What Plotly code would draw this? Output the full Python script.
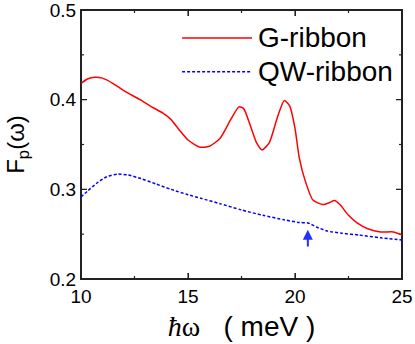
import plotly.graph_objects as go

# photon energy (meV) and Purcell-like factor for the two ribbons
x_g = [10.0, 10.3, 10.65, 11.0, 11.5, 12.0, 12.76, 13.3, 13.83, 14.2, 14.6, 15.0,
       15.56, 16.0, 16.5, 17.0, 17.38, 17.6, 17.9, 18.2, 18.46, 18.8, 19.2, 19.5,
       19.75, 20.0, 20.2, 20.47, 20.84, 21.3, 21.6, 21.85, 22.1, 22.5, 22.9, 23.4,
       24.0, 24.6, 25.0]
f_g = [0.418, 0.423, 0.425, 0.424, 0.418, 0.410, 0.400, 0.392, 0.385, 0.378, 0.366, 0.355,
       0.347, 0.348, 0.357, 0.378, 0.392, 0.390, 0.372, 0.352, 0.344, 0.352, 0.382, 0.399,
       0.393, 0.368, 0.335, 0.310, 0.288, 0.283, 0.285, 0.2875, 0.283, 0.271, 0.2625, 0.256,
       0.2525, 0.2525, 0.249]

x_qw = [10.0, 10.3, 10.8, 11.2, 11.7, 12.2, 12.8, 13.5, 14.2, 15.0, 15.6, 16.5, 17.5,
        18.5, 19.5, 20.2, 20.6, 21.0, 21.5, 22.2, 23.0, 24.0, 25.0]
f_qw = [0.2915, 0.298, 0.308, 0.314, 0.317, 0.316, 0.312, 0.306, 0.300, 0.294, 0.290,
        0.284, 0.277, 0.271, 0.266, 0.263, 0.2625, 0.258, 0.2535, 0.251, 0.249, 0.246, 0.2435]

# arrow marking the feature on the QW curve
arrow_x = 20.6
arrow_tail, arrow_head = 0.2347, 0.255

# axes
x_range = [10, 25]
y_range = [0.2, 0.5]
x_major = [10, 15, 20, 25]
x_minor = [12.5, 17.5, 22.5]
y_major = [0.2, 0.3, 0.4, 0.5]
y_minor = [0.25, 0.35, 0.45]

W, H = 415, 344
M = dict(l=81, r=13, t=10, b=65)
px_x = (x_range[1] - x_range[0]) / (W - M["l"] - M["r"])   # data units per pixel
px_y = (y_range[1] - y_range[0]) / (H - M["t"] - M["b"])

fig = go.Figure()

# box frame and inward ticks on all four sides (drawn as a trace so they always show)
fx = [x_range[0], x_range[1], x_range[1], x_range[0], x_range[0]]
fy = [y_range[0], y_range[0], y_range[1], y_range[1], y_range[0]]
tx, ty = [], []
for vals, ln in ((x_major, 6), (x_minor, 3)):
    for v in vals:
        tx += [v, v, None, v, v, None]
        ty += [y_range[0], y_range[0] + ln * px_y, None, y_range[1], y_range[1] - ln * px_y, None]
for vals, ln in ((y_major, 6), (y_minor, 3)):
    for v in vals:
        tx += [x_range[0], x_range[0] + ln * px_x, None, x_range[1], x_range[1] - ln * px_x, None]
        ty += [v, v, None, v, v, None]
fig.add_trace(go.Scatter(x=fx, y=fy, mode="lines", hoverinfo="skip",
                         line=dict(color="#222222", width=2)))
fig.add_trace(go.Scatter(x=tx, y=ty, mode="lines", hoverinfo="skip",
                         line=dict(color="#222222", width=1.2)))

fig.add_trace(go.Scatter(x=x_g, y=f_g, mode="lines", name="G-ribbon",
                         line=dict(color="#ff0000", width=1.5, shape="spline", smoothing=0.6)))
fig.add_trace(go.Scatter(x=x_qw, y=f_qw, mode="lines", name="QW-ribbon",
                         line=dict(color="#0000ff", width=1.5, dash="3px,2px",
                                   shape="spline", smoothing=0.6)))

fig.add_annotation(x=arrow_x, y=arrow_head, ax=arrow_x, ay=arrow_tail, axref="x", ayref="y",
                   xref="x", yref="y", text="", showarrow=True, arrowhead=2,
                   arrowsize=1, arrowwidth=2, arrowcolor="#2030ff")

# hand drawn legend
legend_items = [("G-ribbon", "#ff0000", "solid", 0.896), ("QW-ribbon", "#0000ff", "3px,2px", 0.770)]
for label, col, dash, yp in legend_items:
    fig.add_shape(type="line", xref="paper", yref="paper", x0=0.315, x1=0.533, y0=yp, y1=yp,
                  line=dict(color=col, width=1.5, dash=dash))
    fig.add_annotation(xref="paper", yref="paper", x=0.545, y=yp, text=label, showarrow=False,
                       xanchor="left", yanchor="middle",
                       font=dict(family="Liberation Sans, Arial", size=28, color="black"))

axis_style = dict(showline=True, linewidth=1, linecolor="#222222", mirror="ticks",
                  ticks="inside", ticklen=6, tickwidth=1, tickcolor="#222222",
                  showgrid=False, zeroline=False, automargin=False, ticklabeloverflow="allow",
                  tickfont=dict(family="Liberation Sans, Arial", size=19, color="black"))

fig.update_xaxes(range=x_range, tickvals=x_major,
                 title=dict(text="<span style='font-family:Liberation Serif'><i>ħ</i>ω</span>   ( meV )",
                            standoff=10,
                            font=dict(family="Liberation Sans, Arial", size=28, color="black")),
                 **axis_style)
fig.update_yaxes(range=y_range, tickvals=y_major, tickformat=".1f",
                 title=dict(text="F<sub>p</sub>(ω)", standoff=18,
                            font=dict(family="Liberation Sans, Arial", size=24, color="black")),
                 **axis_style)

fig.update_layout(width=W, height=H, margin=M,
                  plot_bgcolor="white", paper_bgcolor="white", showlegend=False)

# drop the default body margin so the figure sits at the page corner
fig.write_html("out.html", config={"displayModeBar": False},
               post_script="document.body.style.margin='0';")
